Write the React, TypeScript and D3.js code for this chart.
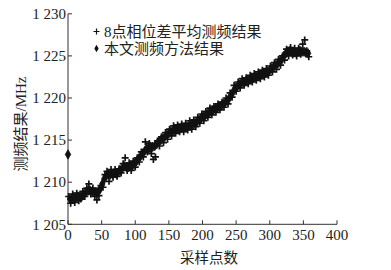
import React from "react";
import * as d3 from "d3";

const xTicks = [0, 50, 100, 150, 200, 250, 300, 350, 400];
const yTicks = [1205, 1210, 1215, 1220, 1225, 1230];
const yTickLabels = ["1 205", "1 210", "1 215", "1 220", "1 225", "1 230"];

// 本文测频方法结果 (samples 0,3,6,...)
const proposedX = d3.range(0, 358, 3);
const proposedValues = [
  1213.3, 1208.0, 1208.1, 1208.2, 1208.2, 1208.3, 1208.3, 1208.4, 1208.6, 1208.8,
  1209.0, 1209.0, 1208.9, 1208.8, 1208.8, 1208.9, 1209.2, 1209.8, 1210.4, 1210.8,
  1210.9, 1210.9, 1211.0, 1211.1, 1211.0, 1211.2, 1211.4, 1211.7, 1211.9, 1211.8,
  1211.8, 1211.9, 1212.0, 1212.2, 1212.5, 1212.8, 1213.1, 1213.4, 1213.7, 1214.0,
  1214.1, 1214.2, 1214.2, 1214.3, 1214.5, 1214.8, 1215.0, 1215.2, 1215.4, 1215.6,
  1215.8, 1216.0, 1216.1, 1216.2, 1216.3, 1216.4, 1216.4, 1216.5, 1216.5, 1216.6,
  1216.7, 1216.8, 1216.9, 1217.0, 1217.2, 1217.4, 1217.6, 1217.8, 1217.9, 1218.1,
  1218.3, 1218.4, 1218.6, 1218.7, 1218.8, 1219.0, 1219.1, 1219.3, 1219.5, 1219.7,
  1220.0, 1220.4, 1220.8, 1221.2, 1221.4, 1221.6, 1221.8, 1221.9, 1222.0, 1222.1,
  1222.2, 1222.3, 1222.4, 1222.5, 1222.6, 1222.7, 1222.8, 1222.9, 1223.0, 1223.1,
  1223.3, 1223.5, 1223.7, 1223.9, 1224.1, 1224.3, 1224.6, 1225.0, 1225.3, 1225.5,
  1225.6, 1225.5, 1225.4, 1225.4, 1225.5, 1225.6, 1225.5, 1225.5, 1225.4, 1225.3,
];

// 8点相位差平均测频结果 (samples 1,4,7,...)
const avgX = d3.range(1, 359, 3);
const avgValues = [
  1208.3, 1207.5, 1208.6, 1207.6, 1208.7, 1207.8, 1208.0, 1208.9, 1208.3, 1209.3,
  1209.8, 1208.6, 1209.3, 1208.3, 1207.9, 1208.4, 1209.6, 1209.4, 1210.9, 1211.3,
  1210.1, 1211.5, 1210.6, 1211.5, 1210.7, 1211.6, 1211.1, 1212.2, 1212.9, 1211.4,
  1212.3, 1211.4, 1212.5, 1211.8, 1212.9, 1212.4, 1213.6, 1213.0, 1214.8, 1213.6,
  1214.6, 1213.4, 1212.7, 1213.0, 1214.9, 1214.3, 1215.4, 1214.7, 1215.9, 1215.1,
  1216.3, 1215.5, 1216.7, 1215.8, 1216.8, 1216.0, 1216.9, 1216.0, 1217.0, 1216.2,
  1217.3, 1216.3, 1217.4, 1216.6, 1217.7, 1217.0, 1218.1, 1217.3, 1218.4, 1217.7,
  1218.8, 1218.0, 1219.0, 1218.3, 1219.3, 1218.6, 1219.5, 1218.9, 1220.0, 1219.3,
  1220.6, 1220.1, 1221.5, 1220.8, 1221.9, 1221.2, 1222.3, 1221.5, 1222.4, 1221.7,
  1222.7, 1221.9, 1222.9, 1222.1, 1223.1, 1222.3, 1223.3, 1222.5, 1223.5, 1222.7,
  1223.8, 1223.1, 1224.2, 1223.4, 1224.6, 1223.9, 1225.0, 1224.5, 1225.8, 1225.0,
  1226.0, 1225.1, 1225.9, 1225.0, 1225.9, 1225.2, 1226.4, 1226.9, 1225.6, 1224.9,
];

const legendLabels = ["8点相位差平均测频结果", "本文测频方法结果"];
const xLabel = "采样点数";
const yLabel = "测频结果/MHz";

const FONT = "'Liberation Serif', 'Noto Sans CJK SC', serif";

export default function App() {
  const W = 391, H = 270;
  const x = d3.scaleLinear().domain([0, 400]).range([68, 337]);
  const y = d3.scaleLinear().domain([1205, 1230]).range([224.3, 13.8]);
  const axisColor = "#333";
  const plusPath = (cx: number, cy: number, r: number) =>
    `M${cx - r},${cy}H${cx + r}M${cx},${cy - r}V${cy + r}`;
  const diamond = d3.symbol().type(d3.symbolDiamond).size(26)() as string;
  const legendDiamond = d3.symbol().type(d3.symbolDiamond).size(16)() as string;

  return (
    <svg width={W} height={H} style={{ position: "absolute", left: 0, top: 0, background: "#fff" }}>
      {/* axes */}
      <line x1={x(0)} x2={x(0)} y1={y(1205)} y2={y(1230)} stroke={axisColor} strokeWidth={1} />
      <line x1={x(0)} x2={x(400)} y1={y(1205)} y2={y(1205)} stroke={axisColor} strokeWidth={1} />
      {yTicks.map((t, i) => (
        <g key={"y" + t}>
          <line x1={x(0)} x2={x(0) + 4} y1={y(t)} y2={y(t)} stroke={axisColor} />
          <text x={x(0) - 2} y={y(t)} dy="0.35em" textAnchor="end" fontSize={15} fontFamily={FONT} fill="#222">
            {yTickLabels[i]}
          </text>
        </g>
      ))}
      {xTicks.map((t) => (
        <g key={"x" + t}>
          <line x1={x(t)} x2={x(t)} y1={y(1205)} y2={y(1205) - 4} stroke={axisColor} />
          <text x={x(t)} y={y(1205) + 16} textAnchor="middle" fontSize={15} fontFamily={FONT} fill="#222">
            {t}
          </text>
        </g>
      ))}
      <text x={209} y={263} textAnchor="middle" fontSize={14.5} fontFamily={FONT} fill="#222">
        {xLabel}
      </text>
      <text
        transform={`translate(26,124) rotate(-90)`}
        textAnchor="middle"
        fontSize={15}
        fontFamily={FONT}
        fill="#222"
      >
        {yLabel}
      </text>

      {/* data */}
      <g stroke="#111" strokeWidth={1.7} fill="none">
        {avgX.map((v, i) => (
          <path key={"a" + i} d={plusPath(x(v), y(avgValues[i]), 3.5)} />
        ))}
      </g>
      <g fill="#111" stroke="#111" strokeWidth={0.8}>
        {proposedX.map((v, i) => (
          <path key={"p" + i} d={diamond} transform={`translate(${x(v)},${y(proposedValues[i])})`} />
        ))}
      </g>

      {/* legend */}
      <path d={plusPath(96.5, 31.5, 3)} stroke="#111" strokeWidth={1.2} fill="none" />
      <text x={104} y={31.5} dy="0.35em" fontSize={15} fontFamily={FONT} fill="#222">
        {legendLabels[0]}
      </text>
      <path d={legendDiamond} transform="translate(96.5,48.5)" fill="#111" />
      <text x={104} y={48.5} dy="0.35em" fontSize={15} fontFamily={FONT} fill="#222">
        {legendLabels[1]}
      </text>
    </svg>
  );
}
